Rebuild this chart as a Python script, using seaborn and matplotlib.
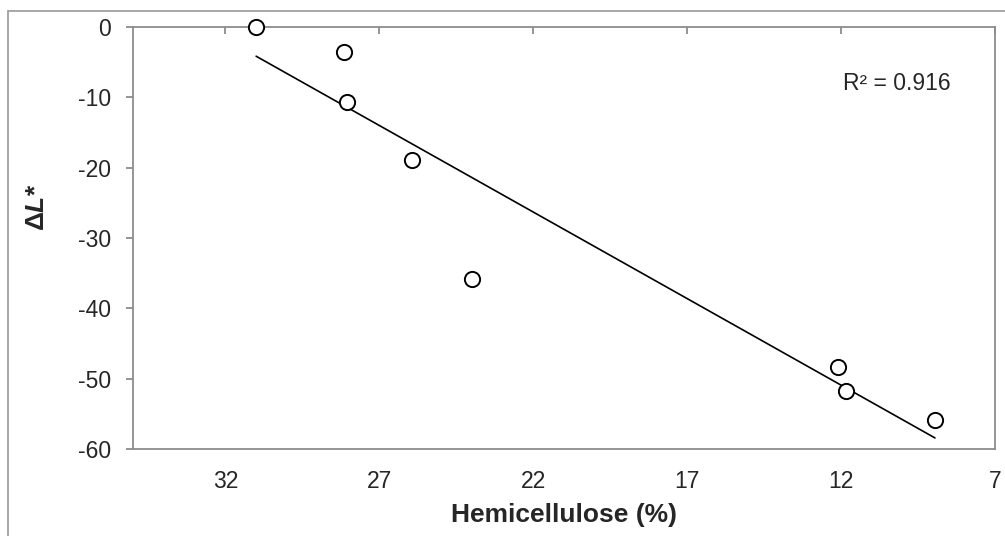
import numpy as np
import pandas as pd
import matplotlib
matplotlib.use("Agg")
import matplotlib.pyplot as plt
from matplotlib.lines import Line2D
import seaborn as sns

# values
hemicellulose = [31.0, 28.15, 28.05, 25.95, 24.0, 12.1, 11.85, 8.95]
delta_l = [0.0, -3.6, -10.7, -18.9, -35.8, -48.4, -51.8, -55.9]
x_ticks = [32, 27, 22, 17, 12, 7]
y_ticks = [0, -10, -20, -30, -40, -50, -60]
r2_label = "R² = 0.916"

data = pd.DataFrame({"hemi": hemicellulose, "dl": delta_l})

sns.set_style("white")
plt.rcParams["font.family"] = ["Liberation Sans", "DejaVu Sans"]
plt.rcParams["axes.unicode_minus"] = False
plt.rcParams["mathtext.fontset"] = "custom"
plt.rcParams["mathtext.bfit"] = "Liberation Sans:italic:bold"
plt.rcParams["mathtext.it"] = "Liberation Sans:italic"

fig = plt.figure(figsize=(10.05, 5.36), dpi=100)
ax = fig.add_axes([133 / 1005, 1 - 449 / 536, (995 - 133) / 1005, (449 - 27) / 536])

sns.regplot(data=data, x="hemi", y="dl", scatter=False, ci=None,
            line_kws={"color": "black", "lw": 1.2}, ax=ax)
sns.scatterplot(data=data, x="hemi", y="dl", s=120, marker="o",
                facecolor="white", edgecolor="black", linewidth=1.4,
                zorder=3, clip_on=False, ax=ax)

ax.set_xlim(35, 7)
ax.set_ylim(-60, 0)
ax.set_xticks(x_ticks)
ax.set_yticks(y_ticks)

gray = "#8c8c8c"
for side in ["left", "right", "top", "bottom"]:
    ax.spines[side].set_visible(True)
    ax.spines[side].set_color(gray)
    ax.spines[side].set_linewidth(1.3)

ax.tick_params(axis="y", direction="out", length=5, width=1.3, color=gray,
               labelsize=16.5, pad=11, left=True)
ax.tick_params(axis="x", direction="in", length=5, width=1.3, color=gray,
               top=True, bottom=False, labeltop=False, labelbottom=True,
               labelsize=16.5, pad=15)

ax.set_xlabel("Hemicellulose (%)", fontsize=19, fontweight="bold")
ax.set_ylabel(r"Δ$\mathbfit{L}$*", fontsize=19, fontweight="bold")
ax.xaxis.set_label_coords(0.5, -0.127)
ax.yaxis.set_label_coords(-0.098, 0.573)

ax.text((897 - 133) / (995 - 133), 1 - (83 - 27) / (449 - 27), r2_label,
        fontsize=16.5, ha="center", va="center", transform=ax.transAxes)

# outer chart frame
fig.add_artist(Line2D([8 / 1005, 8 / 1005], [0, 1 - 11 / 536], color="#a0a0a0",
                      lw=1.3, transform=fig.transFigure))
fig.add_artist(Line2D([8 / 1005, 1], [1 - 11 / 536, 1 - 11 / 536], color="#a0a0a0",
                      lw=1.3, transform=fig.transFigure))

fig.savefig("out.png", dpi=100)
